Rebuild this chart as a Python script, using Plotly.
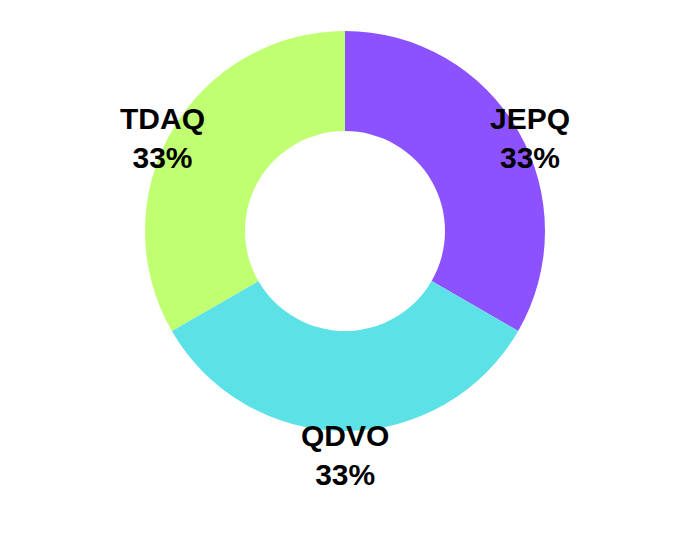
import math
import plotly.graph_objects as go

labels = ["JEPQ", "QDVO", "TDAQ"]
values = [33, 33, 33]
colors = ["#8C52FF", "#5CE1E6", "#C1FF72"]

W, H = 680, 550
cx, cy, R = 337, 223, 200  # pixel center / radius of the donut
dom_x = [(cx - R) / W, (cx + R) / W]
dom_y = [1 - (cy + R) / H, 1 - (cy - R) / H]

fig = go.Figure(go.Pie(
    labels=labels, values=values, hole=0.5, sort=False,
    direction="clockwise", rotation=0,
    marker=dict(colors=colors, line=dict(width=0)),
    textinfo="none", hoverinfo="label+percent",
    domain=dict(x=dom_x, y=dom_y),
    showlegend=False,
))

total = sum(values)
acc = 0
for lab, v in zip(labels, values):
    mid = (acc + v / 2) / total * 2 * math.pi
    acc += v
    r = 262
    px = cx + r * math.sin(mid)
    py = cy - r * math.cos(mid)
    fig.add_annotation(
        x=px / W, y=1 - py / H, xref="paper", yref="paper",
        text=f"<b>{lab}<br>{round(v / total * 100)}%</b>",
        showarrow=False, align="center",
        font=dict(family="Liberation Sans", size=30, color="#000000"),
    )

fig.update_layout(width=W, height=H, margin=dict(l=0, r=0, t=0, b=0),
                  paper_bgcolor="white")
fig.write_html("out.html")
